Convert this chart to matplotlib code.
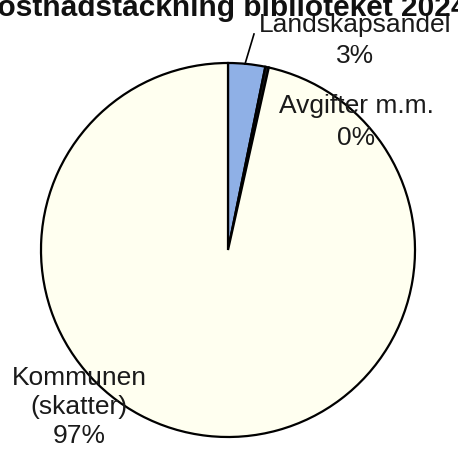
import matplotlib
matplotlib.use("Agg")
import matplotlib.pyplot as plt

title = "Kostnadstäckning biblioteket 2024"
categories = ["Landskapsandel", "Avgifter m.m.", "Kommunen\n(skatter)"]
values = [3.2, 0.3, 96.5]
pct_labels = ["3%", "0%", "97%"]
colors = ["#8FB0E6", "#1a1a1a", "#FFFFF0"]

W, H = 458, 450
fig = plt.figure(figsize=(W / 100, H / 100), dpi=100)
ax = fig.add_axes([0, 0, 1, 1])

cx, cy, r = 228, H - 250, 187
ax.pie(values, colors=colors, startangle=90, counterclock=False,
       center=(cx, cy), radius=r, frame=True,
       wedgeprops=dict(edgecolor="black", linewidth=1.6))
ax.set_xlim(0, W)
ax.set_ylim(0, H)
ax.set_aspect("equal")
ax.axis("off")

font = "Liberation Sans"
fs = 19

def lines_at(x, baselines, texts):
    for yb, t in zip(baselines, texts):
        ax.text(x, H - yb, t, ha="center", va="baseline", fontsize=fs,
                family=font, color="#1a1a1a")

lines_at(355, [32, 63], [categories[0], pct_labels[0]])
lines_at(356, [113, 145], [categories[1], pct_labels[1]])
k1, k2 = categories[2].split("\n")
lines_at(79, [385, 414, 443], [k1, k2, pct_labels[2]])

ax.plot([254, 245], [H - 34, H - 64], color="black", lw=1.2)

fig.text(222 / W, 1 - 16 / H, title, ha="center", va="baseline",
         fontsize=21.5, fontweight="bold", family=font, color="#111111")

fig.savefig("out.png", dpi=100)
